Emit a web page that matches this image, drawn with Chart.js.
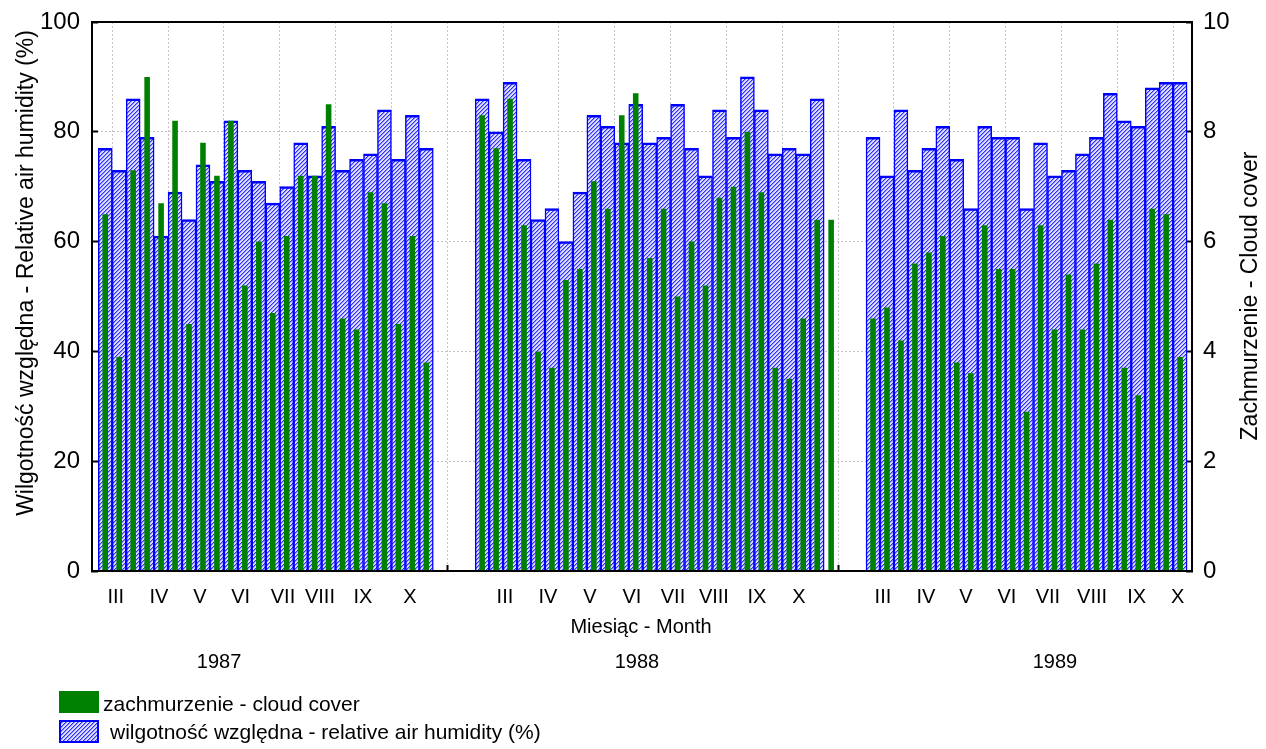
<!DOCTYPE html>
<html>
<head>
<meta charset="utf-8">
<title>Zachmurzenie i wilgotność względna 1987–1989</title>
<script src="https://cdn.jsdelivr.net/npm/chart.js@4.4.0/dist/chart.umd.min.js"></script>
<style>
  html, body { margin: 0; padding: 0; background: #fff; }
  canvas { display: block; }
</style>
</head>
<body>
<canvas id="chart" width="1266" height="749"></canvas>
<script>
const years = ['1987', '1988', '1989'];
const months = ['III', 'IV', 'V', 'VI', 'VII', 'VIII', 'IX', 'X'];

// relative air humidity (%), one bar per decade
const humidity1987 = [77, 73, 86, 79, 61, 69, 64, 74, 71, 82, 73, 71, 67, 70, 78, 72, 81, 73, 75, 76, 84, 75, 83, 77];
const humidity1988 = [86, 80, 89, 75, 64, 66, 60, 69, 83, 81, 78, 85, 78, 79, 85, 77, 72, 84, 79, 90, 84, 76, 77, 76, 86];
const humidity1989 = [79, 72, 84, 73, 77, 81, 75, 66, 81, 79, 79, 66, 78, 72, 73, 76, 79, 87, 82, 81, 88, 89, 89];

// cloud cover (0-10)
const cloud1987 = [6.5, 3.9, 7.3, 9.0, 6.7, 8.2, 4.5, 7.8, 7.2, 8.2, 5.2, 6.0, 4.7, 6.1, 7.2, 7.2, 8.5, 4.6, 4.4, 6.9, 6.7, 4.5, 6.1, 3.8];
const cloud1988 = [8.3, 7.7, 8.6, 6.3, 4.0, 3.7, 5.3, 5.5, 7.1, 6.6, 8.3, 8.7, 5.7, 6.6, 5.0, 6.0, 5.2, 6.8, 7.0, 8.0, 6.9, 3.7, 3.5, 4.6, 6.4, 6.4];
const cloud1989 = [4.6, 4.8, 4.2, 5.6, 5.8, 6.1, 3.8, 3.6, 6.3, 5.5, 5.5, 2.9, 6.3, 4.4, 5.4, 4.4, 5.6, 6.4, 3.7, 3.2, 6.6, 6.5, 3.9];

const humidityTicks = [0, 20, 40, 60, 80, 100];
const cloudTicks = [0, 2, 4, 6, 8, 10];

// x axis runs in decade slots; each year starts at its own slot
const yearStart = [0, 27, 55];
const gridSlots = [1, 5, 9, 13, 17, 21, 25, 29, 33, 37, 41, 45, 49, 53, 57, 61, 65, 69, 73, 77];
const monthSlots = [
  [1.25, 4.35, 7.28, 10.2, 13.23, 15.88, 18.96, 22.32],
  [29.13, 32.21, 35.22, 38.23, 41.17, 44.1, 47.18, 50.19],
  [56.21, 59.29, 62.15, 65.09, 68.03, 71.19, 74.38, 77.33]
];
const yearSlots = [8.65, 38.59, 68.53];
const monthTitleSlot = 38.88;

const FONT = '"Liberation Sans", Arial, sans-serif';

function toPoints(values, start) {
  return values.map((v, i) => ({ x: start + i + 0.5, y: v }));
}

const humidityPoints = [
  ...toPoints(humidity1987, yearStart[0]),
  ...toPoints(humidity1988, yearStart[1]),
  ...toPoints(humidity1989, yearStart[2])
];
const cloudPoints = [
  ...toPoints(cloud1987, yearStart[0]),
  ...toPoints(cloud1988, yearStart[1]),
  ...toPoints(cloud1989, yearStart[2])
];

const ctx = document.getElementById('chart').getContext('2d');

// fine diagonal hatching for the humidity bars
function makeHatch() {
  const c = document.createElement('canvas');
  c.width = 4;
  c.height = 4;
  const g = c.getContext('2d');
  g.fillStyle = '#dcdcff';
  g.fillRect(0, 0, 4, 4);
  for (let i = 0; i < 4; i++) {
    g.fillStyle = '#3030f4';
    g.fillRect(3 - i, i, 1, 1);
    g.fillStyle = '#9090ff';
    g.fillRect((4 - i) % 4, i, 1, 1);
  }
  return ctx.createPattern(c, 'repeat');
}
const hatch = makeHatch();

function verticalText(c, text, x, y) {
  c.save();
  c.translate(x, y);
  c.rotate(-Math.PI / 2);
  c.fillText(text, 0, 0);
  c.restore();
}

const decorations = {
  id: 'decorations',
  afterDraw(chart) {
    const { ctx: c, chartArea: a, scales: { x } } = chart;
    c.save();

    // frame round the plot
    c.strokeStyle = '#000';
    c.lineWidth = 2;
    c.strokeRect(a.left, a.top, a.right - a.left, a.bottom - a.top);

    c.fillStyle = '#000';
    c.textAlign = 'center';
    c.textBaseline = 'alphabetic';
    c.font = '20px ' + FONT;
    monthSlots.forEach(slots => {
      slots.forEach((s, i) => c.fillText(months[i], x.getPixelForValue(s), 603));
    });
    c.fillText('Miesiąc - Month', x.getPixelForValue(monthTitleSlot), 633);
    years.forEach((yr, i) => c.fillText(yr, x.getPixelForValue(yearSlots[i]), 668));

    c.font = '23px ' + FONT;
    verticalText(c, 'Wilgotność względna - Relative air humidity (%)', 33, 273);
    verticalText(c, 'Zachmurzenie - Cloud cover', 1257, 296);

    // legend
    c.textAlign = 'left';
    c.font = '21px ' + FONT;
    c.fillStyle = '#008000';
    c.fillRect(59, 691, 40, 22);
    c.fillStyle = '#000';
    c.fillText('zachmurzenie - cloud cover', 103, 711);

    c.fillStyle = hatch;
    c.fillRect(59, 720, 40, 23);
    c.strokeStyle = '#0000ff';
    c.lineWidth = 2;
    c.strokeRect(60, 721, 38, 21);
    c.fillStyle = '#000';
    c.fillText('wilgotność względna - relative air humidity (%)', 110, 739);

    c.restore();
  }
};

const tickMarks = {
  drawTicks: true,
  tickLength: -6,
  tickColor: '#000',
  tickWidth: 2,
  tickBorderDash: []
};

// fixed axis width, and no extra room reserved for the end labels
function fitVertical(width) {
  return s => {
    s.width = width;
    s.paddingTop = 0;
    s.paddingBottom = 0;
  };
}

new Chart(ctx, {
  type: 'bar',
  data: {
    datasets: [
      {
        label: 'zachmurzenie - cloud cover',
        data: cloudPoints,
        yAxisID: 'y1',
        backgroundColor: '#008000',
        borderWidth: 0,
        grouped: false,
        categoryPercentage: 1,
        barPercentage: 0.4
      },
      {
        label: 'wilgotność względna - relative air humidity (%)',
        data: humidityPoints,
        yAxisID: 'y',
        backgroundColor: hatch,
        borderColor: '#0000ff',
        borderWidth: { top: 2.5, left: 1.5, right: 1.5, bottom: 0 },
        grouped: false,
        categoryPercentage: 1,
        barPercentage: 1
      }
    ]
  },
  options: {
    responsive: false,
    animation: false,
    layout: { padding: { top: 22, left: 0, right: 0, bottom: 0 } },
    plugins: {
      legend: { display: false },
      tooltip: { enabled: false }
    },
    scales: {
      x: {
        type: 'linear',
        min: -0.45,
        max: 78.35,
        offset: false,
        afterBuildTicks: s => { s.ticks = gridSlots.map(v => ({ value: v })); },
        afterFit: s => { s.height = 178; s.paddingLeft = 0; s.paddingRight = 0; },
        ticks: { display: false },
        grid: { offset: false, color: '#c4c4c4', lineWidth: 1, ...tickMarks },
        border: { display: true, color: '#000', width: 2, dash: [2, 2] }
      },
      y: {
        position: 'left',
        min: 0,
        max: 100,
        afterBuildTicks: s => { s.ticks = humidityTicks.map(v => ({ value: v })); },
        afterFit: fitVertical(92),
        ticks: { color: '#000', font: { size: 24, family: FONT }, padding: 18 },
        grid: { color: '#c4c4c4', lineWidth: 1, ...tickMarks },
        border: { display: true, color: '#000', width: 2, dash: [2, 2] }
      },
      y1: {
        position: 'right',
        min: 0,
        max: 10,
        afterBuildTicks: s => { s.ticks = cloudTicks.map(v => ({ value: v })); },
        afterFit: fitVertical(74),
        ticks: { color: '#000', font: { size: 24, family: FONT }, padding: 17 },
        grid: { drawOnChartArea: false, ...tickMarks },
        border: { display: true, color: '#000', width: 2 }
      }
    }
  },
  plugins: [decorations]
});
</script>
</body>
</html>
